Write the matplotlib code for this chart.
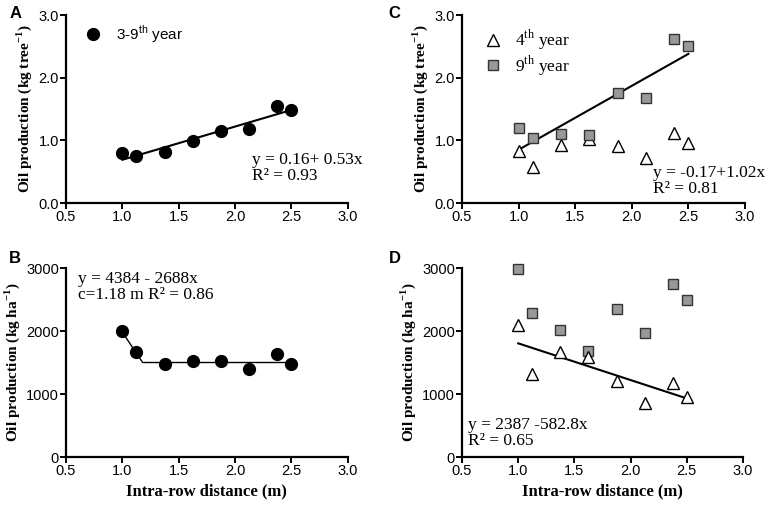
import numpy as np
import matplotlib.pyplot as plt

# intra-row distance (m)
dist = [1.0, 1.125, 1.375, 1.625, 1.875, 2.125, 2.375, 2.5]

# A: oil per tree, mean 3-9th year
a_tree = [0.80, 0.75, 0.81, 0.99, 1.15, 1.18, 1.55, 1.48]
# B: oil per ha, mean 3-9th year
b_ha = [2000, 1660, 1470, 1520, 1530, 1390, 1630, 1480]
b_knot_x = [1.0, 1.18, 2.5]
b_knot_y = [1980, 1500, 1500]
# C: oil per tree, 4th and 9th year
c_4th = [0.83, 0.58, 0.92, 1.02, 0.91, 0.72, 1.12, 0.95]
c_9th = [1.19, 1.03, 1.10, 1.09, 1.76, 1.67, 2.61, 2.50]
# D: oil per ha, 4th and 9th year
d_4th = [2100, 1310, 1670, 1580, 1210, 860, 1180, 960]
d_9th = [2980, 2290, 2010, 1680, 2350, 1970, 2750, 2500]

serif = 'Liberation Serif'
sans = 'Liberation Sans'
plt.rcParams['font.family'] = sans
plt.rcParams['mathtext.fontset'] = 'custom'
plt.rcParams['mathtext.rm'] = serif
plt.rcParams['mathtext.bf'] = serif + ':bold'
plt.rcParams['mathtext.sf'] = sans

fig = plt.figure(figsize=(7.73, 5.07), dpi=100)
axA = fig.add_axes([0.0854, 0.5996, 0.3646, 0.3708])
axC = fig.add_axes([0.5977, 0.5996, 0.3661, 0.3708])
axB = fig.add_axes([0.0854, 0.0986, 0.3646, 0.3728])
axD = fig.add_axes([0.5977, 0.0986, 0.3635, 0.3728])


def style(ax, ymax, yticks, ylab, fmt):
    ax.set_xlim(0.5, 3.0)
    ax.set_ylim(0, ymax)
    ax.set_xticks([0.5, 1.0, 1.5, 2.0, 2.5, 3.0])
    ax.set_xticklabels(['%.1f' % t for t in ax.get_xticks()])
    ax.set_yticks(yticks)
    ax.set_yticklabels([fmt % t for t in yticks])
    for s in ['top', 'right']:
        ax.spines[s].set_visible(False)
    for s in ['left', 'bottom']:
        ax.spines[s].set_linewidth(1.6)
    ax.tick_params(width=1.4, length=4, labelsize=10.5, pad=1, colors='black')
    ax.set_ylabel(ylab, fontfamily=serif, fontweight='bold', fontsize=11, labelpad=3)


tree_lab = r'Oil production (kg tree$^{\mathbf{-1}}$)'
ha_lab = r'Oil production (kg ha$^{\mathbf{-1}}$)'

# A
style(axA, 3.0, [0, 1, 2, 3], tree_lab, '%.1f')
xl = np.array([1.0, 2.5])
axA.plot(xl, 0.16 + 0.53 * xl, color='black', lw=1.5, zorder=2)
axA.plot(dist, a_tree, 'o', color='black', ms=8.5, zorder=3, label=r'3-9$^{\mathsf{th}}$ year')
axA.legend(loc='upper left', frameon=False, fontsize=11, handletextpad=0.5,
           borderaxespad=0.0, bbox_to_anchor=(0.02, 0.99))
axA.text(2.15, 0.82, 'y = 0.16+ 0.53x\nR² = 0.93', fontfamily=serif, fontsize=12.5,
         linespacing=1.0, va='top')

# B
style(axB, 3000, [0, 1000, 2000, 3000], ha_lab, '%d')
axB.plot(b_knot_x, b_knot_y, color='black', lw=1.0, zorder=2)
axB.plot(dist, b_ha, 'o', color='black', ms=8.5, zorder=3)
axB.text(0.61, 2960, 'y = 4384 - 2688x\nc=1.18 m R² = 0.86', fontfamily=serif,
         fontsize=12.5, linespacing=1.0, va='top')
axB.set_xlabel('Intra-row distance (m)', fontfamily=serif, fontweight='bold', fontsize=12)

# C
style(axC, 3.0, [0, 1, 2, 3], tree_lab, '%.1f')
axC.plot(xl, -0.17 + 1.02 * xl, color='black', lw=1.5, zorder=2)
axC.plot(dist, c_4th, '^', mfc='white', mec='black', mew=1.0, ms=8.5, zorder=3,
         label=r'4$^{\rm th}$ year')
axC.plot(dist, c_9th, 's', mfc='#999999', mec='#333333', mew=1.0, ms=7.5, zorder=3,
         label=r'9$^{\rm th}$ year')
axC.legend(loc='upper left', frameon=False, handletextpad=0.5, labelspacing=0.05,
           borderaxespad=0.0, bbox_to_anchor=(0.04, 0.97), handlelength=1.5,
           prop={'family': serif, 'size': 12.5})
axC.text(2.19, 0.6, 'y = -0.17+1.02x\nR² = 0.81', fontfamily=serif, fontsize=12.5,
         linespacing=1.0, va='top')

# D
style(axD, 3000, [0, 1000, 2000, 3000], ha_lab, '%d')
axD.plot(xl, 2387 - 582.8 * xl, color='black', lw=1.5, zorder=2)
axD.plot(dist, d_9th, 's', mfc='#999999', mec='#333333', mew=1.0, ms=7.5, zorder=3,
         clip_on=False)
axD.plot(dist, d_4th, '^', mfc='white', mec='black', mew=1.0, ms=8.5, zorder=4)
axD.text(0.55, 640, 'y = 2387 -582.8x\nR² = 0.65', fontfamily=serif, fontsize=12.5,
         linespacing=1.0, va='top')
axD.set_xlabel('Intra-row distance (m)', fontfamily=serif, fontweight='bold', fontsize=12)

# panel letters
for lab, x, y in [('A', 0.012, 0.988), ('B', 0.012, 0.504), ('C', 0.503, 0.988), ('D', 0.503, 0.504)]:
    fig.text(x, y, lab, fontsize=12, fontweight='bold', va='top', ha='left')

fig.savefig('out.png', dpi=100)
